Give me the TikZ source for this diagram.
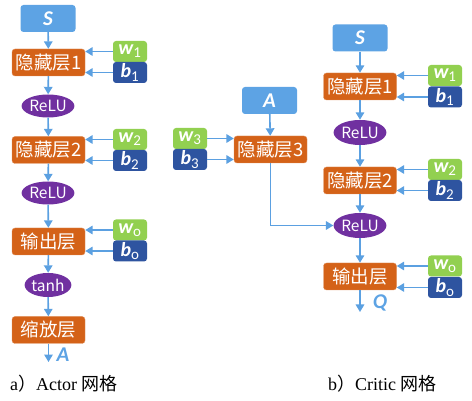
\documentclass[tikz,border=0pt]{standalone}
\usepackage{fontspec}
\setmainfont{Noto Sans CJK SC}
\newfontfamily\cjk{Noto Sans CJK SC}
\newfontfamily\lat{Carlito}
\newfontfamily\capfont{Liberation Serif}
\usetikzlibrary{arrows.meta,shapes.geometric}
\definecolor{lblue}{RGB}{93,163,228}
\definecolor{arrc}{RGB}{91,160,225}
\definecolor{orng}{RGB}{212,98,24}
\definecolor{grn}{RGB}{146,208,80}
\definecolor{dblue}{RGB}{46,84,160}
\definecolor{purp}{RGB}{112,48,160}
\tikzset{
  inbox/.style={fill=lblue, rounded corners=3pt, minimum width=55pt, minimum height=27pt, inner sep=0pt, text=white, font=\lat\bfseries\itshape\fontsize{21}{21}\selectfont},
  layer/.style={fill=orng, draw=orng!70!white, line width=0.4pt, rounded corners=3pt, minimum width=73pt, minimum height=27pt, inner sep=0pt, text=white, font=\cjk\fontsize{18.5}{18.5}\selectfont},
  wbox/.style={fill=grn, rounded corners=3pt, minimum width=34pt, minimum height=21pt, inner sep=0pt, text=white, font=\lat\bfseries\itshape\fontsize{20}{20}\selectfont},
  bbox/.style={wbox, fill=dblue},
  act/.style={ellipse, fill=purp, minimum width=42pt, minimum height=23pt, inner sep=0pt, text=white, font=\cjk\fontsize{15.5}{15.5}\selectfont},
  arr/.style={draw=arrc, line width=1.6pt, -{Triangle[length=7.5pt,width=8.5pt]}},
  outlbl/.style={text=lblue, font=\lat\bfseries\itshape\fontsize{21}{21}\selectfont, inner sep=0pt},
  capt/.style={font=\capfont\fontsize{18}{18}\selectfont, inner sep=0pt, anchor=base west}
}
\newcommand{\sbs}[1]{\textsubscript{\normalfont\lat\fontsize{15}{15}\selectfont #1}}
\begin{document}
\begin{tikzpicture}[x=1pt,y=-1pt]
\useasboundingbox (0,0) rectangle (472,401);
% ---------- Actor ----------
\node[inbox] (S1) at (48,18.5) {S};
\node[layer] (H11) at (48.5,62.5) {隐藏层1};
\node[wbox] (w11) at (130,51.5) {w\sbs{1}};
\node[bbox] (b11) at (130,72.5) {b\sbs{1}};
\node[act] (R11) at (48,106) {ReLU};
\node[layer] (H12) at (48.5,150) {隐藏层2};
\node[wbox] (w12) at (130,139.5) {w\sbs{2}};
\node[bbox] (b12) at (130,160.5) {b\sbs{2}};
\node[act] (R12) at (48,193) {ReLU};
\node[layer] (O1) at (48.5,241.5) {输出层};
\node[wbox] (wo1) at (130,230) {w\sbs{o}};
\node[bbox] (bo1) at (130,251) {b\sbs{o}};
\node[act, minimum width=38pt, minimum height=24pt] (T1) at (48,285) {tanh};
\node[layer] (Z1) at (48.5,330) {缩放层};
\coordinate (A1end) at (48.5,362);
\node[outlbl] (Alab) at (63,355) {A};
\draw[arr] (S1) -- (H11);
\draw[arr] (H11) -- (R11);
\draw[arr] (R11) -- (H12);
\draw[arr] (H12) -- (R12);
\draw[arr] (R12) -- (O1);
\draw[arr] (O1) -- (T1);
\draw[arr] (T1) -- (Z1);
\draw[arr] (Z1) -- (A1end);
\foreach \a/\b in {w11/H11,b11/H11,w12/H12,b12/H12,wo1/O1,bo1/O1}
  \draw[arr] (\a.west) -- (\a.west -| \b.east);
% ---------- Middle ----------
\node[inbox] (A2) at (269.5,100.5) {A};
\node[layer] (H3) at (270.5,149.5) {隐藏层3};
\node[wbox] (w3) at (190,138.5) {w\sbs{3}};
\node[bbox] (b3) at (190,159.5) {b\sbs{3}};
\draw[arr] (A2) -- (H3);
\draw[arr] (w3.east) -- (w3.east -| H3.west);
\draw[arr] (b3.east) -- (b3.east -| H3.west);
% ---------- Critic ----------
\node[inbox] (S2) at (360,38) {S};
\node[layer] (H21) at (360,86.5) {隐藏层1};
\node[wbox] (w21) at (445,75.5) {w\sbs{1}};
\node[bbox] (b21) at (445,97) {b\sbs{1}};
\node[act, minimum width=46pt, minimum height=25pt] (R21) at (360,132.5) {ReLU};
\node[layer] (H22) at (360,180.5) {隐藏层2};
\node[wbox] (w22) at (445,169.5) {w\sbs{2}};
\node[bbox] (b22) at (445,190.5) {b\sbs{2}};
\node[act, minimum width=46pt, minimum height=25pt] (R22) at (360,225.5) {ReLU};
\node[layer] (O2) at (360,276.5) {输出层};
\node[wbox] (wo2) at (445,266) {w\sbs{o}};
\node[bbox] (bo2) at (445,287.5) {b\sbs{o}};
\coordinate (Q2end) at (360,312);
\node[outlbl] (Qlab) at (380,303) {Q};
\draw[arr] (S2) -- (H21);
\draw[arr] (H21) -- (R21);
\draw[arr] (R21) -- (H22);
\draw[arr] (H22) -- (R22);
\draw[arr] (R22) -- (O2);
\draw[arr] (O2) -- (Q2end);
\foreach \a/\b in {w21/H21,b21/H21,w22/H22,b22/H22,wo2/O2,bo2/O2}
  \draw[arr] (\a.west) -- (\a.west -| \b.east);
\draw[arr] (H3.south) |- (R22.west);
% ---------- Captions ----------
\node[capt] (capA) at (10,390) {a{\cjk ）}Actor {\cjk 网格}};
\node[capt] (capB) at (328,390) {b{\cjk ）}Critic {\cjk 网格}};
\end{tikzpicture}
\end{document}
